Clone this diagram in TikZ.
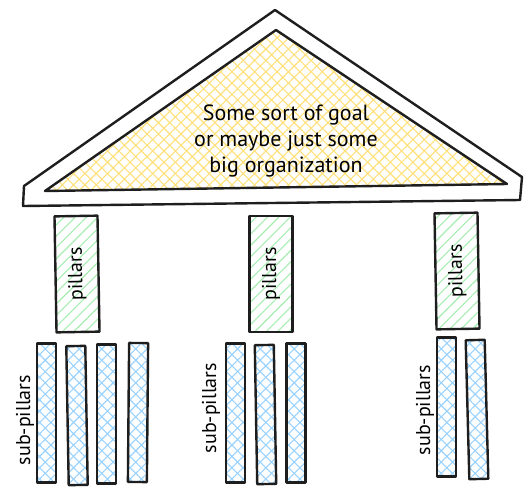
\documentclass[tikz,border=0pt]{standalone}
\usepackage{fontspec}
\setmainfont{PT Sans}
\usetikzlibrary{patterns.meta}
\definecolor{roofhatch}{HTML}{FFE07A}
\definecolor{pillarhatch}{HTML}{A6EDB0}
\definecolor{subhatch}{HTML}{99D2FF}
\definecolor{ink}{HTML}{1E1E1E}
\tikzset{
  outline/.style={draw=ink, line width=2.4pt, line join=round, line cap=round},
  hatchA/.style={preaction={pattern={Lines[angle=45,distance=8pt,line width=1.1pt]}, pattern color=#1}},
  hatchB/.style={preaction={pattern={Lines[angle=-45,distance=8pt,line width=1.1pt]}, pattern color=#1}},
  pillarbox/.style={outline, rectangle, minimum width=116pt, minimum height=43pt,
    inner sep=0pt, font=\fontsize{20}{22}\selectfont, hatchA=pillarhatch},
  subbox/.style={outline, rectangle, minimum width=19pt, minimum height=139pt,
    inner sep=0pt, hatchA=subhatch, hatchB=subhatch},
  sublabel/.style={rotate=90, inner sep=0pt, font=\fontsize{20}{22}\selectfont},
}
\begin{document}
\begin{tikzpicture}[x=1pt,y=-1pt]
\useasboundingbox (0,0) rectangle (532,496);
% roof
\coordinate (oa) at (275,10);
\coordinate (or) at (522,177);
\coordinate (orb) at (520,200);
\coordinate (olb) at (23,206);
\coordinate (ol) at (24,186);
\draw[outline] (oa) -- (or) -- (orb) -- (olb) -- (ol) -- cycle;
\coordinate (ia) at (276,30);
\coordinate (ir) at (507,184);
\coordinate (il) at (45,191);
\draw[outline, hatchA=roofhatch, hatchB=roofhatch] (ia) -- (ir) -- (il) -- cycle;
\node[align=center, font=\fontsize{22}{26}\selectfont] (goal) at (286,141)
  {Some sort of goal\\or maybe just some\\big organization};
% pillars
\node[pillarbox, rotate=91] (p1) at (77,274) {pillars};
\node[pillarbox, rotate=90] (p2) at (271,274) {pillars};
\node[pillarbox, rotate=91] (p3) at (457,271) {pillars};
% sub-pillars group 1
\node[subbox] (s11) at (46.5,413) {};
\node[subbox, rotate=1] (s12) at (77,415.5) {};
\node[subbox] (s13) at (106.5,414) {};
\node[subbox, rotate=-0.5] (s14) at (138,412.5) {};
\node[sublabel] (l1) at (25,420) {sub-pillars};
% group 2
\node[subbox] (s21) at (235.5,413) {};
\node[subbox, rotate=1] (s22) at (265.5,414.5) {};
\node[subbox] (s23) at (296,413) {};
\node[sublabel] (l2) at (211,408) {sub-pillars};
% group 3
\node[subbox] (s31) at (446.5,407) {};
\node[subbox, rotate=1.5] (s32) at (477,409.5) {};
\node[sublabel] (l3) at (425,410) {sub-pillars};
\end{tikzpicture}
\end{document}
